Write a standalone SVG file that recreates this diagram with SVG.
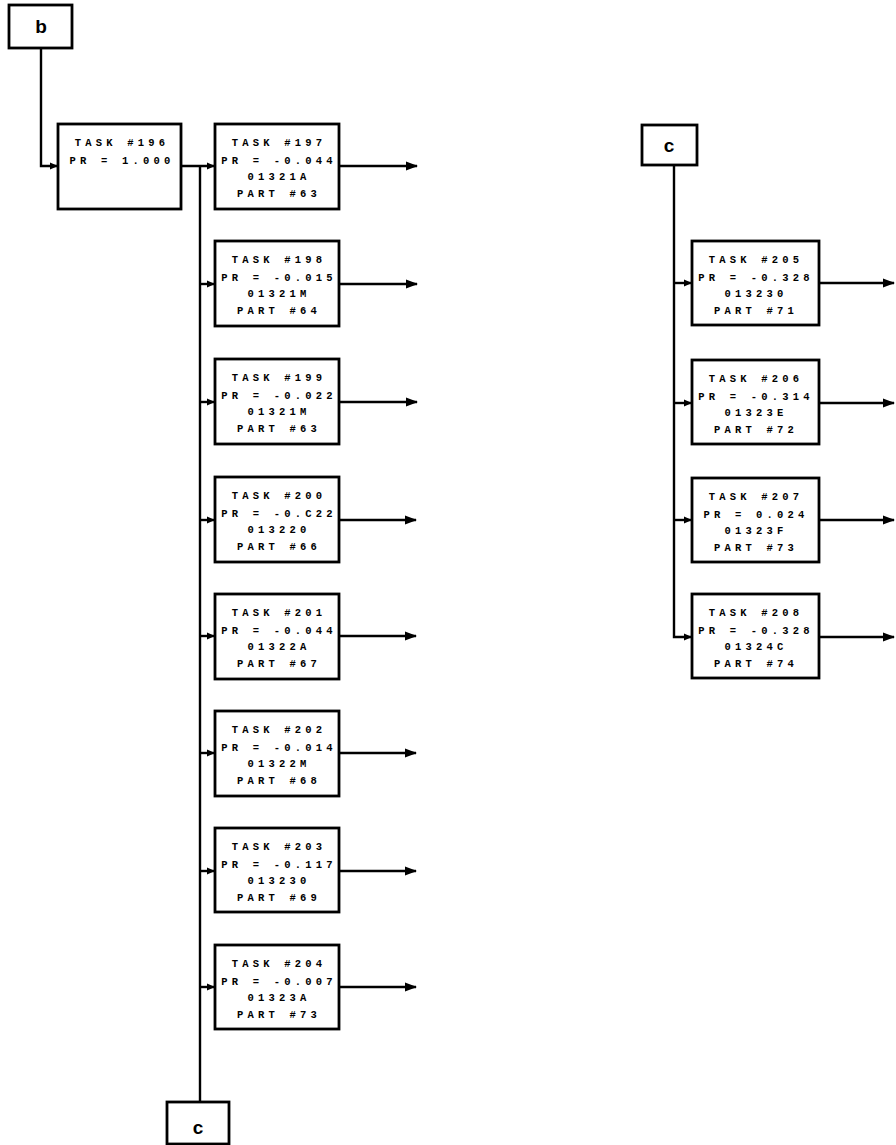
<svg xmlns="http://www.w3.org/2000/svg" width="896" height="1145" viewBox="0 0 896 1145">
<style>
.box{fill:#fff;stroke:#000;stroke-width:2.8}
.ln{fill:none;stroke:#000;stroke-width:2.4}
.t{font-family:"Liberation Mono",monospace;font-weight:bold;font-size:10.5px;letter-spacing:4.2px;text-anchor:middle;fill:#000}
.lab{font-family:"Liberation Sans",Arial,sans-serif;font-weight:bold;font-size:19px;text-anchor:middle;fill:#000}
</style>
<defs>
<marker id="out" markerUnits="userSpaceOnUse" markerWidth="12" markerHeight="10" refX="11" refY="5" orient="auto"><path d="M0,0.5 L12,5 L0,9.5 z" fill="#000"/></marker>
<marker id="in" markerUnits="userSpaceOnUse" markerWidth="8" markerHeight="8" refX="7" refY="4" orient="auto"><path d="M0,0.5 L8,4 L0,7.5 z" fill="#000"/></marker>
</defs>
<g id="connectors">
<path class="ln" d="M41,48 V166 H57" marker-end="url(#in)"/>
<path class="ln" d="M181,166 H214" marker-end="url(#in)"/>
<path class="ln" d="M200,166 V1102"/>
<path class="ln" d="M200,284 H214" marker-end="url(#in)"/>
<path class="ln" d="M200,402 H214" marker-end="url(#in)"/>
<path class="ln" d="M200,520 H214" marker-end="url(#in)"/>
<path class="ln" d="M200,636 H214" marker-end="url(#in)"/>
<path class="ln" d="M200,753 H214" marker-end="url(#in)"/>
<path class="ln" d="M200,871 H214" marker-end="url(#in)"/>
<path class="ln" d="M200,987 H214" marker-end="url(#in)"/>
<path class="ln" d="M339,166 H417" marker-end="url(#out)"/>
<path class="ln" d="M339,284 H417" marker-end="url(#out)"/>
<path class="ln" d="M339,402 H417" marker-end="url(#out)"/>
<path class="ln" d="M339,520 H416" marker-end="url(#out)"/>
<path class="ln" d="M339,636 H416" marker-end="url(#out)"/>
<path class="ln" d="M339,753 H416" marker-end="url(#out)"/>
<path class="ln" d="M339,871 H416" marker-end="url(#out)"/>
<path class="ln" d="M339,987 H416" marker-end="url(#out)"/>
<path class="ln" d="M674,165 V637 H691" marker-end="url(#in)"/>
<path class="ln" d="M674,283 H691" marker-end="url(#in)"/>
<path class="ln" d="M674,403 H691" marker-end="url(#in)"/>
<path class="ln" d="M674,520 H691" marker-end="url(#in)"/>
<path class="ln" d="M819,283 H894" marker-end="url(#out)"/>
<path class="ln" d="M819,403 H894" marker-end="url(#out)"/>
<path class="ln" d="M819,520 H894" marker-end="url(#out)"/>
<path class="ln" d="M819,637 H894" marker-end="url(#out)"/>
</g>
<g id="node-b"><rect class="box" x="9" y="5" width="63" height="43"/><text class="lab" x="41" y="33">b</text></g>
<g id="task196"><rect class="box" x="58" y="124" width="123" height="85"/>
<text class="t" x="122" y="146">TASK #196</text><text class="t" x="122" y="164">PR = 1.000</text></g>
<g id="task197"><rect class="box" x="215" y="124" width="124" height="85"/>
<text class="t" x="279" y="146">TASK #197</text><text class="t" x="279" y="164">PR = -0.044</text><text class="t" x="279" y="180">01321A</text><text class="t" x="279" y="197">PART #63</text></g>
<g id="task198"><rect class="box" x="215" y="241" width="124" height="85"/>
<text class="t" x="279" y="263">TASK #198</text><text class="t" x="279" y="281">PR = -0.015</text><text class="t" x="279" y="297">01321M</text><text class="t" x="279" y="314">PART #64</text></g>
<g id="task199"><rect class="box" x="215" y="359" width="124" height="85"/>
<text class="t" x="279" y="381">TASK #199</text><text class="t" x="279" y="399">PR = -0.022</text><text class="t" x="279" y="415">01321M</text><text class="t" x="279" y="432">PART #63</text></g>
<g id="task200"><rect class="box" x="215" y="477" width="124" height="85"/>
<text class="t" x="279" y="499">TASK #200</text><text class="t" x="279" y="517">PR = -0.C22</text><text class="t" x="279" y="533">013220</text><text class="t" x="279" y="550">PART #66</text></g>
<g id="task201"><rect class="box" x="215" y="594" width="124" height="85"/>
<text class="t" x="279" y="616">TASK #201</text><text class="t" x="279" y="634">PR = -0.044</text><text class="t" x="279" y="650">01322A</text><text class="t" x="279" y="667">PART #67</text></g>
<g id="task202"><rect class="box" x="215" y="711" width="124" height="85"/>
<text class="t" x="279" y="733">TASK #202</text><text class="t" x="279" y="751">PR = -0.014</text><text class="t" x="279" y="767">01322M</text><text class="t" x="279" y="784">PART #68</text></g>
<g id="task203"><rect class="box" x="215" y="828" width="124" height="84"/>
<text class="t" x="279" y="850">TASK #203</text><text class="t" x="279" y="868">PR = -0.117</text><text class="t" x="279" y="884">013230</text><text class="t" x="279" y="901">PART #69</text></g>
<g id="task204"><rect class="box" x="215" y="945" width="124" height="84"/>
<text class="t" x="279" y="967">TASK #204</text><text class="t" x="279" y="985">PR = -0.007</text><text class="t" x="279" y="1001">01323A</text><text class="t" x="279" y="1018">PART #73</text></g>
<g id="node-c-bottom"><rect class="box" x="167" y="1102" width="62" height="42"/><text class="lab" x="198" y="1134">c</text></g>
<g id="node-c-top"><rect class="box" x="642" y="125" width="55" height="40"/><text class="lab" x="669" y="152">c</text></g>
<g id="task205"><rect class="box" x="692" y="241" width="127" height="84"/>
<text class="t" x="756" y="263">TASK #205</text><text class="t" x="756" y="281">PR = -0.328</text><text class="t" x="756" y="297">013230</text><text class="t" x="756" y="314">PART #71</text></g>
<g id="task206"><rect class="box" x="692" y="360" width="127" height="84"/>
<text class="t" x="756" y="382">TASK #206</text><text class="t" x="756" y="400">PR = -0.314</text><text class="t" x="756" y="416">01323E</text><text class="t" x="756" y="433">PART #72</text></g>
<g id="task207"><rect class="box" x="692" y="478" width="127" height="84"/>
<text class="t" x="756" y="500">TASK #207</text><text class="t" x="756" y="518">PR = 0.024</text><text class="t" x="756" y="534">01323F</text><text class="t" x="756" y="551">PART #73</text></g>
<g id="task208"><rect class="box" x="692" y="594" width="127" height="84"/>
<text class="t" x="756" y="616">TASK #208</text><text class="t" x="756" y="634">PR = -0.328</text><text class="t" x="756" y="650">01324C</text><text class="t" x="756" y="667">PART #74</text></g>
</svg>
